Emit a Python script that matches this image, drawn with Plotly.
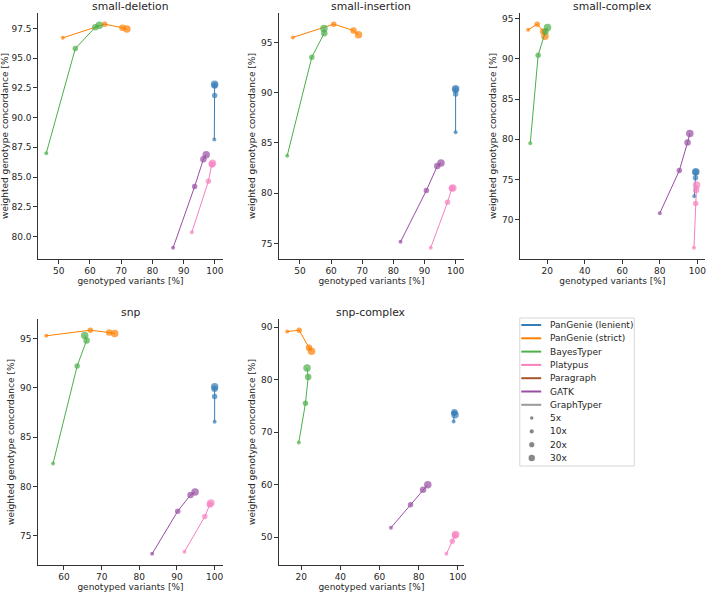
import plotly.graph_objects as go

W, H = 708, 593

methods = ["PanGenie (lenient)", "PanGenie (strict)", "BayesTyper", "Platypus", "Paragraph", "GATK", "GraphTyper"]
colors = ["#377eb8", "#ff7f00", "#4daf4a", "#f781bf", "#a65628", "#984ea3", "#999999"]
coverages = ["5x", "10x", "20x", "30x"]
marker_sizes = [4, 5.5, 6.5, 7.5]
legend_dot_sizes = [3.5, 4.2, 5.2, 6.4]

panels = ["small-deletion", "small-insertion", "small-complex", "snp", "snp-complex"]

# genotyped variants [%] (x) and weighted genotype concordance [%] (y), per coverage 5x,10x,20x,30x
small_deletion_x = {
    "PanGenie (lenient)": [99.8, 99.9, 99.9, 99.9],
    "PanGenie (strict)": [51.3, 64.7, 70.4, 71.8],
    "BayesTyper": [46.0, 55.3, 61.7, 63.0],
    "Platypus": [92.6, 97.9, 99.0, 99.2],
    "GATK": [86.6, 93.5, 96.3, 97.2],
}
small_deletion_y = {
    "PanGenie (lenient)": [88.15, 91.85, 92.7, 92.8],
    "PanGenie (strict)": [96.7, 97.85, 97.55, 97.45],
    "BayesTyper": [87.0, 95.8, 97.6, 97.75],
    "Platypus": [80.35, 84.65, 86.05, 86.15],
    "GATK": [79.05, 84.2, 86.5, 86.88],
}
small_insertion_x = {
    "PanGenie (lenient)": [100.0, 100.0, 100.0, 100.0],
    "PanGenie (strict)": [47.7, 60.85, 67.2, 68.8],
    "BayesTyper": [45.9, 53.8, 57.8, 57.7],
    "Platypus": [92.0, 97.4, 98.8, 99.1],
    "GATK": [82.3, 90.6, 94.1, 95.3],
}
small_insertion_y = {
    "PanGenie (lenient)": [86.06, 89.87, 90.3, 90.4],
    "PanGenie (strict)": [95.5, 96.82, 96.19, 95.76],
    "BayesTyper": [83.74, 93.54, 95.93, 96.4],
    "Platypus": [74.57, 79.1, 80.5, 80.53],
    "GATK": [75.17, 80.27, 82.7, 83.0],
}
small_complex_x = {
    "PanGenie (lenient)": [98.4, 99.0, 99.1, 99.2],
    "PanGenie (strict)": [9.9, 14.7, 17.9, 18.8],
    "BayesTyper": [11.0, 15.2, 19.1, 20.2],
    "Platypus": [98.2, 99.1, 99.4, 99.6],
    "GATK": [80.0, 90.4, 94.8, 96.0],
}
small_complex_y = {
    "PanGenie (lenient)": [72.9, 75.2, 75.9, 75.95],
    "PanGenie (strict)": [93.6, 94.3, 93.4, 92.8],
    "BayesTyper": [79.5, 90.45, 93.4, 93.9],
    "Platypus": [66.5, 72.0, 73.7, 74.3],
    "GATK": [70.8, 76.1, 79.6, 80.7],
}
snp_x = {
    "PanGenie (lenient)": [100.0, 100.0, 100.0, 100.0],
    "PanGenie (strict)": [55.3, 67.0, 72.0, 73.45],
    "BayesTyper": [57.1, 63.5, 66.0, 65.5],
    "Platypus": [92.0, 97.4, 98.7, 99.0],
    "GATK": [83.4, 90.2, 93.6, 94.8],
}
snp_y = {
    "PanGenie (lenient)": [86.57, 89.13, 89.9, 90.1],
    "PanGenie (strict)": [95.27, 95.84, 95.6, 95.5],
    "BayesTyper": [82.32, 92.2, 94.8, 95.3],
    "Platypus": [73.4, 76.96, 78.17, 78.34],
    "GATK": [73.18, 77.5, 79.15, 79.45],
}
snp_complex_x = {
    "PanGenie (lenient)": [97.8, 98.0, 98.2, 98.5],
    "PanGenie (strict)": [12.9, 19.0, 24.0, 25.3],
    "BayesTyper": [18.8, 22.2, 23.6, 23.0],
    "Platypus": [94.1, 97.1, 98.5, 98.8],
    "GATK": [65.8, 75.8, 82.2, 84.6],
}
snp_complex_y = {
    "PanGenie (lenient)": [72.0, 73.6, 73.8, 73.3],
    "PanGenie (strict)": [89.17, 89.43, 86.1, 85.4],
    "BayesTyper": [68.03, 75.5, 80.5, 82.2],
    "Platypus": [46.8, 49.2, 50.3, 50.5],
    "GATK": [51.78, 56.16, 59.0, 59.97],
}

panel_x = [small_deletion_x, small_insertion_x, small_complex_x, snp_x, snp_complex_x]
panel_y = [small_deletion_y, small_insertion_y, small_complex_y, snp_y, snp_complex_y]
x_dticks = [10, 10, 20, 10, 20]
y_dticks = [2.5, 5, 5, 5, 10]
y_formats = [".1f", "d", "d", "d", "d"]

# pixel boxes of the axes
col_left = [38, 280, 522]
row_top = [13, 319]
ax_w, ax_h = 186, 246

font = "DejaVu Sans"
txt = "#262626"
fig = go.Figure()
layout = {}

def px(xp):
    return xp / W

def py(yp):
    return 1 - yp / H

for i, name in enumerate(panels):
    r, c = divmod(i, 3)
    xa = "x" if i == 0 else f"x{i+1}"
    ya = "y" if i == 0 else f"y{i+1}"
    xs_all, ys_all = [], []
    for m, col in zip(methods, colors):
        if m not in panel_x[i]:
            continue
        xs = panel_x[i][m]
        ys = panel_y[i][m]
        xs_all += xs
        ys_all += ys
        fig.add_trace(go.Scatter(
            x=xs, y=ys, mode="lines+markers", xaxis=xa, yaxis=ya,
            line=dict(color=col, width=1),
            marker=dict(color=col, size=marker_sizes, line=dict(width=0)),
            showlegend=False, name=m, text=coverages))
    xmin, xmax = min(xs_all), max(xs_all)
    ymin, ymax = min(ys_all), max(ys_all)
    dx = (xmax - xmin) * 0.05
    dy = (ymax - ymin) * 0.05
    l = col_left[c]
    t = row_top[r]
    common = dict(showline=True, linecolor="#333333", linewidth=1, showgrid=False,
                  zeroline=False, ticks="outside", ticklen=3.5, tickwidth=0.8,
                  tickcolor="#333333", tickfont=dict(family=font, size=9, color=txt),
                  title_font=dict(family=font, size=9, color=txt))
    layout["xaxis" if i == 0 else f"xaxis{i+1}"] = dict(
        common, domain=[px(l), px(l + ax_w)], anchor=ya,
        range=[xmin - dx, xmax + dx], dtick=x_dticks[i], tick0=0,
        title=dict(text="genotyped variants [%]", standoff=2))
    layout["yaxis" if i == 0 else f"yaxis{i+1}"] = dict(
        common, domain=[py(t + ax_h), py(t)], anchor=xa,
        range=[ymin - dy, ymax + dy], dtick=y_dticks[i], tick0=0,
        tickformat=y_formats[i],
        title=dict(text="weighted genotype concordance [%]", standoff=3))
    fig.add_annotation(text=name, x=px(l + ax_w / 2), y=py(t + 1.5),
                       xref="paper", yref="paper", xanchor="center", yanchor="bottom",
                       showarrow=False, font=dict(family=font, size=10.8, color=txt))

# hand-drawn legend (matplotlib-like compact spacing)
shapes = []
lg_left, lg_top, lg_right, lg_bottom = 522, 318, 637, 466
shapes.append(dict(type="rect", xref="paper", yref="paper",
                   x0=px(lg_left), x1=px(lg_right), y0=py(lg_bottom), y1=py(lg_top),
                   line=dict(color="#d6d6d6", width=1), fillcolor="white", layer="below"))
row_y0 = 325
row_step = 13.3
line_x0, line_x1, text_x = 523.5, 543.5, 550
dot_x = 534
k = 0
for m, col in zip(methods, colors):
    yy = row_y0 + k * row_step
    shapes.append(dict(type="line", xref="paper", yref="paper",
                       x0=px(line_x0), x1=px(line_x1), y0=py(yy), y1=py(yy),
                       line=dict(color=col, width=2)))
    fig.add_annotation(text=m, x=px(text_x), y=py(yy), xref="paper", yref="paper",
                       xanchor="left", yanchor="middle", showarrow=False,
                       font=dict(family=font, size=9, color=txt))
    k += 1
for cov, s in zip(coverages, legend_dot_sizes):
    yy = row_y0 + k * row_step
    shapes.append(dict(type="circle", xref="paper", yref="paper",
                       x0=px(dot_x - s / 2), x1=px(dot_x + s / 2),
                       y0=py(yy + s / 2), y1=py(yy - s / 2),
                       line=dict(width=0), fillcolor="#888888"))
    fig.add_annotation(text=cov, x=px(text_x), y=py(yy), xref="paper", yref="paper",
                       xanchor="left", yanchor="middle", showarrow=False,
                       font=dict(family=font, size=9, color=txt))
    k += 1

fig.update_layout(
    width=W, height=H, margin=dict(l=0, r=0, t=0, b=0),
    paper_bgcolor="white", plot_bgcolor="white",
    font=dict(family=font, size=9, color=txt),
    showlegend=False, shapes=shapes,
    **layout)

# remove the browser's default 8px body margin so the figure fills the window exactly
fig.write_html("out.html", config={"displayModeBar": False},
               post_script="document.body.style.margin='0px';document.body.style.overflow='hidden';")
